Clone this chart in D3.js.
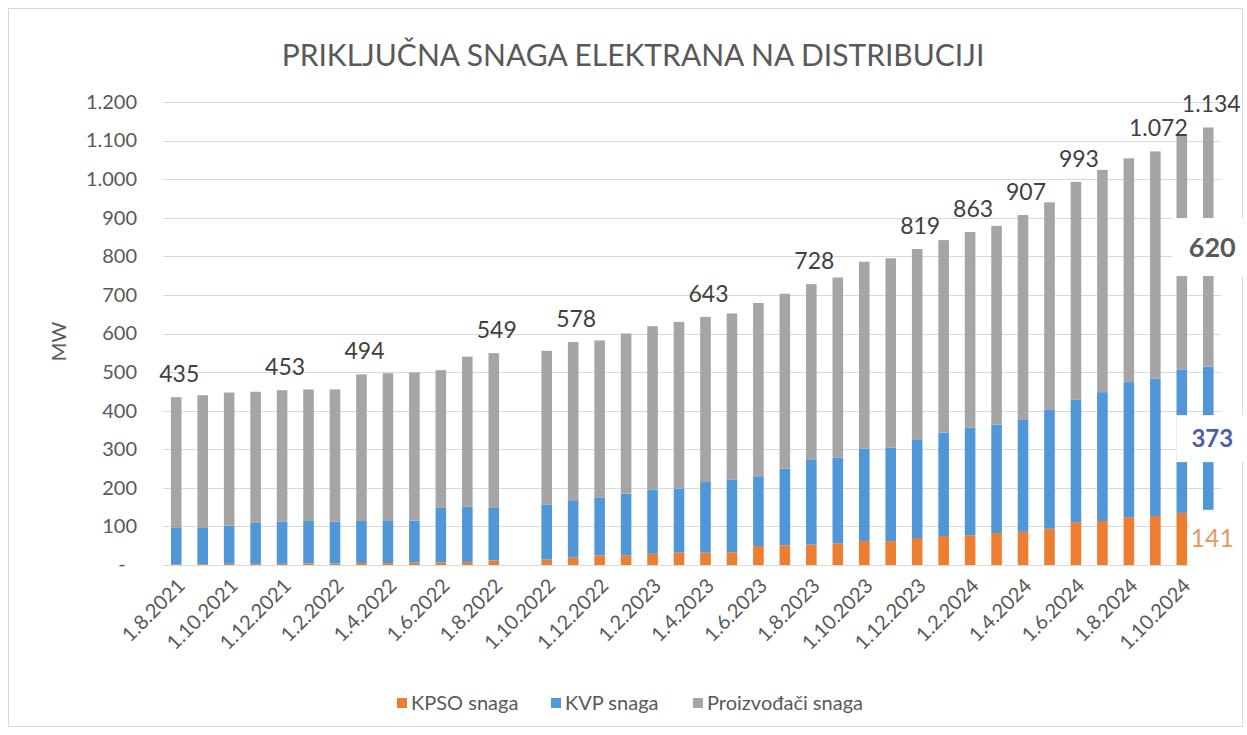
<!DOCTYPE html>
<html>
<head>
<meta charset="utf-8">
<script src="https://cdn.jsdelivr.net/npm/d3@7/dist/d3.min.js"></script>
<style>
  html, body { margin: 0; padding: 0; background: #ffffff; }
  svg { display: block; }
  text { font-family: Lato, "Open Sans", sans-serif; }
</style>
</head>
<body>
<svg id="chart" width="1247" height="735"></svg>
<script>
// ---------- DATA ----------
const categories = [
  "1.8.2021","1.9.2021","1.10.2021","1.11.2021","1.12.2021","1.1.2022","1.2.2022","1.3.2022",
  "1.4.2022","1.5.2022","1.6.2022","1.7.2022","1.8.2022","1.9.2022","1.10.2022","1.11.2022",
  "1.12.2022","1.1.2023","1.2.2023","1.3.2023","1.4.2023","1.5.2023","1.6.2023","1.7.2023",
  "1.8.2023","1.9.2023","1.10.2023","1.11.2023","1.12.2023","1.1.2024","1.2.2024","1.3.2024",
  "1.4.2024","1.5.2024","1.6.2024","1.7.2024","1.8.2024","1.9.2024","1.10.2024","1.11.2024"
];
const kpso = [2,2,3,3,3,4,4,5,5,6,7,8,12,null,14,20,25,25,29,32,32,33,49,51,53,56,62,62,70,75,77,83,86,94,111,114,124,127,135,141];
const kvp = [94,94,99,106,109,110,108,109,109,109,141,143,136,null,143,148,149,160,167,166,183,189,181,199,221,222,239,242,256,268,279,281,290,308,317,334,350,356,372,373];
const proizvodjaci = [339,344,345,340,341,341,343,380,383,384,357,389,401,null,398,410,408,415,423,432,428,430,449,453,454,467,485,491,493,499,507,515,531,538,565,576,580,589,609,620];
const seriesNames = ["KPSO snaga", "KVP snaga", "Proizvođači snaga"];
const totalLabelIndex = [0,4,7,12,15,20,24,28,30,32,34,37,39];
const xTickIndex = [0,2,4,6,8,10,12,14,16,18,20,22,24,26,28,30,32,34,36,38];
const yTicks = [0,100,200,300,400,500,600,700,800,900,1000,1100,1200];
const titleText = "PRIKLJUČNA SNAGA ELEKTRANA NA DISTRIBUCIJI";
const yAxisTitle = "MW";

// ---------- STYLE ----------
const colors = ["#ED7D31", "#5097D8", "#A5A5A5"];
const segLabelStyle = [
  { color: "#E39A62", weight: 400, size: 25, w: 46, h: 56 },
  { color: "#4F5DA6", weight: 700, size: 24, w: 72, h: 47 },
  { color: "#595959", weight: 700, size: 27, w: 80, h: 58 }
];

const svg = d3.select("#chart");
const plot = { left: 163, right: 1221.5, top: 102, bottom: 565 };

const loc = d3.formatLocale({ decimal: ",", thousands: ".", grouping: [3], currency: ["", ""] });
const fmt = loc.format(",d");

// border
svg.append("rect").attr("x", 8.5).attr("y", 8.5).attr("width", 1234).attr("height", 718)
  .attr("fill", "#fff").attr("stroke", "#d9d9d9").attr("stroke-width", 1);

const rows = categories.map((c, i) => ({
  cat: c, i,
  [seriesNames[0]]: kpso[i], [seriesNames[1]]: kvp[i], [seriesNames[2]]: proizvodjaci[i],
  empty: kpso[i] === null
}));

const x = d3.scaleBand().domain(categories).range([plot.left, plot.right]).paddingInner(0.6).paddingOuter(0.3);
const y = d3.scaleLinear().domain([0, 1200]).range([plot.bottom, plot.top]);

// gridlines
svg.append("g").selectAll("line").data(yTicks).join("line")
  .attr("x1", plot.left).attr("x2", plot.right)
  .attr("y1", d => Math.round(y(d)) + 0.5).attr("y2", d => Math.round(y(d)) + 0.5)
  .attr("stroke", "#d9d9d9").attr("stroke-width", 1);

// stacked bars
const stack = d3.stack().keys(seriesNames).value((d, k) => d[k] || 0);
const stacked = stack(rows);
svg.append("g").selectAll("g").data(stacked).join("g")
  .attr("fill", (d, i) => colors[i])
  .selectAll("rect").data(d => d.filter(p => !p.data.empty)).join("rect")
  .attr("x", d => x(d.data.cat))
  .attr("width", x.bandwidth())
  .attr("y", d => y(d[1]))
  .attr("height", d => y(d[0]) - y(d[1]));

// y axis
const yAxis = d3.axisLeft(y).tickValues(yTicks).tickSize(0).tickPadding(26)
  .tickFormat(d => d === 0 ? "" : fmt(d));
const gy = svg.append("g").attr("transform", `translate(${plot.left},0)`).call(yAxis);
gy.select(".domain").remove();
gy.selectAll("text").attr("fill", "#595959").style("font-size", "20px").style("font-family", "Lato");
svg.append("text").attr("x", 122).attr("y", y(0) + 6).attr("text-anchor", "middle")
  .attr("fill", "#595959").style("font-size", "20px").text("-");

// y title
svg.append("text").attr("transform", `translate(66,${(plot.top + plot.bottom) / 2 + 8}) rotate(-90)`)
  .attr("text-anchor", "middle").attr("fill", "#595959").style("font-size", "20px").text(yAxisTitle);

// x axis
const xAxis = d3.axisBottom(x).tickValues(xTickIndex.map(i => categories[i])).tickSize(0);
const gx = svg.append("g").attr("transform", `translate(0,${plot.bottom})`).call(xAxis);
gx.select(".domain").remove();
gx.selectAll("text")
  .attr("fill", "#595959").style("font-size", "20px").style("font-family", "Lato")
  .attr("text-anchor", "end")
  .attr("dy", 0).attr("y", 0)
  .attr("transform", "translate(10,22) rotate(-45)");

// total labels
const totals = categories.map((c, i) => kpso[i] === null ? null : kpso[i] + kvp[i] + proizvodjaci[i]);
svg.append("g").selectAll("text").data(totalLabelIndex).join("text")
  .attr("x", i => x(categories[i]) + x.bandwidth() / 2 + 3)
  .attr("y", i => y(totals[i]) - 15)
  .attr("text-anchor", "middle").attr("fill", "#404040").style("font-size", "23px")
  .text(i => fmt(totals[i]));

// last bar segment labels with white boxes
const last = categories.length - 1;
const segs = stacked.map((s, k) => ({ k, lo: s[last][0], hi: s[last][1], v: [kpso, kvp, proizvodjaci][k][last] }));
const cx = x(categories[last]) + x.bandwidth() / 2 + 4;
const gl = svg.append("g");
gl.selectAll("rect").data(segs).join("rect")
  .attr("x", d => cx - segLabelStyle[d.k].w / 2)
  .attr("y", d => (y(d.lo) + y(d.hi)) / 2 - segLabelStyle[d.k].h / 2)
  .attr("width", d => segLabelStyle[d.k].w)
  .attr("height", d => segLabelStyle[d.k].h)
  .attr("fill", "#ffffff");
gl.selectAll("text").data(segs).join("text")
  .attr("x", cx)
  .attr("y", d => (y(d.lo) + y(d.hi)) / 2)
  .attr("dy", "0.36em")
  .attr("text-anchor", "middle")
  .attr("fill", d => segLabelStyle[d.k].color)
  .style("font-weight", d => segLabelStyle[d.k].weight)
  .style("font-size", d => segLabelStyle[d.k].size + "px")
  .text(d => fmt(d.v));

// title
svg.append("text").attr("x", 633).attr("y", 66).attr("text-anchor", "middle")
  .attr("fill", "#595959").style("font-size", "30px").text(titleText);

// legend
const legX = [397, 551, 693];
const lg = svg.append("g").selectAll("g").data(seriesNames).join("g")
  .attr("transform", (d, i) => `translate(${legX[i]},698)`);
lg.append("rect").attr("width", 10).attr("height", 10).attr("fill", (d, i) => colors[i]);
lg.append("text").attr("x", 14).attr("y", 5).attr("dy", "0.36em")
  .attr("fill", "#595959").style("font-size", "20px").text(d => d);
</script>
</body>
</html>
